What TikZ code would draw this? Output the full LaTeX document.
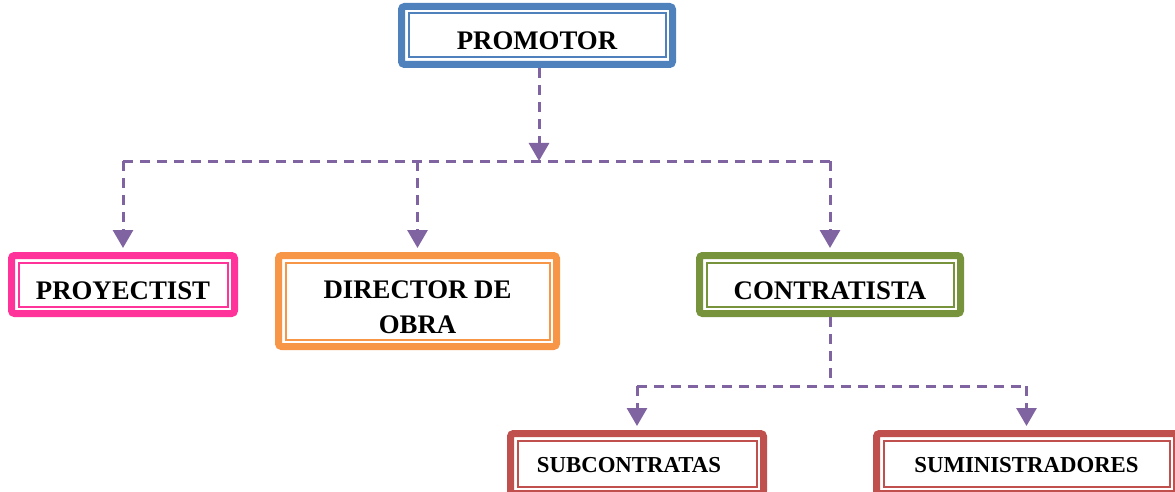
\documentclass[tikz,border=0pt]{standalone}
\usepackage{fontspec}
\setmainfont{Liberation Serif}
\usetikzlibrary{arrows.meta}
\definecolor{azul}{HTML}{4F81BD}
\definecolor{rosa}{HTML}{FF3399}
\definecolor{naranja}{HTML}{F79646}
\definecolor{verde}{HTML}{77933C}
\definecolor{rojo}{HTML}{C0504D}
\definecolor{morado}{HTML}{8064A2}
\tikzset{
	caja/.style={draw=#1, line width=7pt, rounded corners=3pt, fill=white, inner sep=0pt, minimum height=58pt, font=\bfseries\fontsize{26.8}{35}\selectfont},
	simple/.style={text height=29pt, text depth=0pt},
	baja/.style={minimum height=60pt, font=\bfseries\fontsize{22.8}{26}\selectfont, text height=17pt, text depth=0pt},
	marco/.style={draw=#1, line width=2pt},
	linea/.style={draw=morado, line width=3pt, dash pattern=on 10pt off 7pt},
	flecha/.style={linea, -{Triangle[width=20pt,length=18pt]}}
}
\begin{document}
\begin{tikzpicture}[x=1pt,y=-1pt]
	\useasboundingbox (0,0) rectangle (1175,492);
	\clip (0,0) rectangle (1175,492);
	% Cajas
	\node[caja=azul, simple, minimum width=271pt] (promotor) at (537,35.5) {PROMOTOR};
	\node[caja=rosa, simple, minimum width=223pt] (proyectista) at (123,284.5) {PROYECTIST};
	\node[caja=naranja, align=center, text height=64pt, text depth=0pt, minimum width=278pt, minimum height=91pt] (director) at (417.5,301) {DIRECTOR DE\\OBRA};
	\node[caja=verde, simple, minimum width=261pt] (contratista) at (830,284.5) {CONTRATISTA};
	\node[caja=rojo, baja, minimum width=253pt] (subcontratas) at (637,463.5) {SUBCONTRATAS\hspace*{16pt}};
	\node[caja=rojo, baja, minimum width=300pt] (suministradores) at (1026.5,463.5) {SUMINISTRADORES};
	
	% Marcos interiores
	\foreach \n/\c in {promotor/azul, proyectista/rosa, director/naranja, contratista/verde, subcontratas/rojo, suministradores/rojo}
		\draw[marco=\c] ([xshift=10.5pt,yshift=-10.5pt]\n.north west) rectangle ([xshift=-10.5pt,yshift=10.5pt]\n.south east);
	
	% Conexiones
	\coordinate (cruce1) at (539,161);
	\coordinate (cruce2) at (830,386);
	\draw[flecha] (promotor.south -| cruce1) -- (cruce1);
	\draw[linea] (proyectista |- cruce1) -- (contratista |- cruce1);
	\foreach \n in {proyectista, director, contratista}
		\draw[flecha, shorten >=4pt] (\n |- cruce1) -- (\n);
	\draw[linea] (contratista) -- (cruce2);
	\draw[linea] (subcontratas |- cruce2) -- (suministradores |- cruce2);
	\foreach \n in {subcontratas, suministradores}
		\draw[flecha, shorten >=4pt] (\n |- cruce2) -- (\n);
\end{tikzpicture}
\end{document}
